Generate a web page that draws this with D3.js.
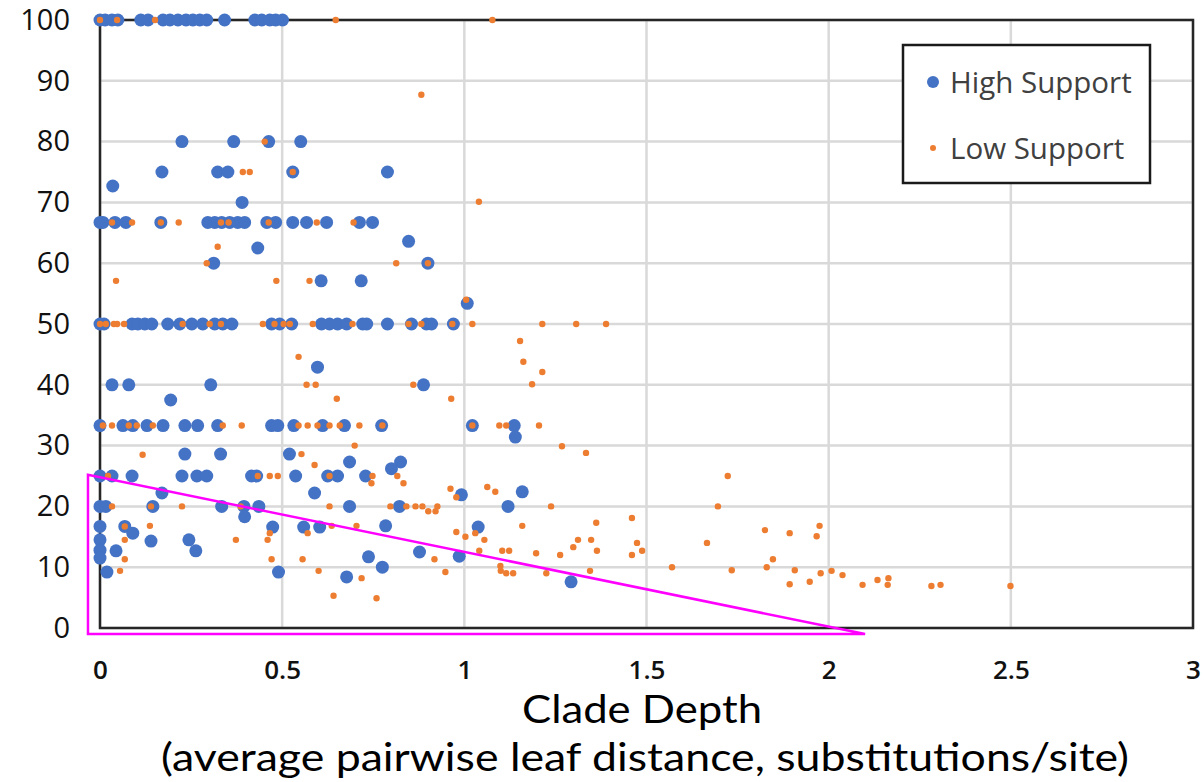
<!DOCTYPE html>
<html>
<head>
<meta charset="utf-8">
<script src="https://cdn.jsdelivr.net/npm/d3@7"></script>
<style>
  body { margin: 0; background: #fff; }
  svg { display: block; font-family: "Open Sans", sans-serif; }
</style>
</head>
<body>
<script>
// axis ticks
const xTicks = [0, 0.5, 1, 1.5, 2, 2.5, 3];
const yTicks = [0, 10, 20, 30, 40, 50, 60, 70, 80, 90, 100];

// [clade depth, support %]
const highSupport = [
  [0,100],[0.014,100],[0.033,100],[0.049,100],[0.112,100],[0.132,100],[0.173,100],[0.192,100],[0.214,100],
  [0.236,100],[0.255,100],[0.274,100],[0.293,100],[0.342,100],[0.425,100],[0.444,100],[0.466,100],[0.482,100],[0.501,100],
  [0.225,80],[0.367,80],[0.463,80],[0.551,80],
  [0.170,75],[0.323,75],[0.351,75],[0.529,75],[0.789,75],
  [0.035,72.7],[0.39,70],
  [0,66.7],[0.008,66.7],[0.041,66.7],[0.071,66.7],[0.167,66.7],[0.296,66.7],[0.315,66.7],[0.334,66.7],[0.356,66.7],
  [0.378,66.7],[0.397,66.7],[0.458,66.7],[0.482,66.7],[0.529,66.7],[0.567,66.7],[0.622,66.7],[0.712,66.7],[0.748,66.7],
  [0.847,63.6],[0.433,62.5],
  [0.312,60],[0.90,60],
  [0.607,57.1],[0.717,57.1],
  [1.008,53.4],
  [0,50],[0.011,50],[0.088,50],[0.104,50],[0.123,50],[0.142,50],[0.186,50],[0.219,50],[0.252,50],[0.282,50],
  [0.315,50],[0.337,50],[0.362,50],[0.471,50],[0.493,50],[0.526,50],[0.608,50],[0.630,50],[0.652,50],[0.677,50],
  [0.721,50],[0.732,50],[0.789,50],[0.855,50],[0.896,50],[0.910,50],[0.970,50],
  [0.597,42.9],
  [0.033,40],[0.079,40],[0.304,40],[0.888,40],
  [0.194,37.5],
  [0,33.3],[0.063,33.3],[0.09,33.3],[0.129,33.3],[0.173,33.3],[0.233,33.3],[0.268,33.3],[0.323,33.3],[0.471,33.3],
  [0.488,33.3],[0.532,33.3],[0.611,33.3],[0.671,33.3],[0.773,33.3],[1.022,33.3],[1.137,33.3],
  [1.14,31.4],
  [0.233,28.6],[0.331,28.6],[0.52,28.6],
  [0.685,27.3],[0.825,27.3],[0.80,26.2],
  [0,25],[0.033,25],[0.088,25],[0.225,25],[0.266,25],[0.293,25],[0.416,25],[0.430,25],[0.537,25],[0.625,25],[0.652,25],[0.729,25],
  [0.17,22.2],[0.589,22.2],[0.992,21.9],[1.159,22.4],
  [0,20],[0.016,20],[0.145,20],[0.334,20],[0.395,20],[0.436,20],[0.685,20],[0.822,20],[1.12,20],
  [0.397,18.3],
  [0,16.7],[0.068,16.7],[0.09,15.6],[0,14.5],[0,12.8],[0,11.5],[0.044,12.7],[0.019,9.2],[0.14,14.3],[0.244,14.5],
  [0.263,12.7],[0.474,16.6],[0.49,9.2],[0.559,16.6],[0.603,16.6],[0.677,8.4],[0.737,11.7],[0.775,10],[0.784,16.8],
  [0.877,12.5],[0.986,11.8],[1.038,16.6],[1.293,7.6]
];

const lowSupport = [
  [0,100],[0.047,100],[0.151,100],[0.647,100],[1.077,100],
  [0.452,80],[0.882,87.7],[1.04,70.1],
  [0.392,75],[0.411,75],[0.529,75],
  [0.033,66.7],[0.088,66.7],[0.167,66.7],[0.216,66.7],[0.332,66.7],[0.353,66.7],[0.463,66.7],[0.595,66.7],[0.696,66.7],
  [0.323,62.7],
  [0.293,60],[0.813,60],[0.90,60],
  [0.044,57.1],[0.484,57.1],[0.575,57.1],
  [1.005,54],
  [0,50],[0.016,50],[0.038,50],[0.047,50],[0.066,50],[0.227,50],[0.301,50],[0.332,50],[0.447,50],[0.479,50],[0.504,50],
  [0.521,50],[0.584,50],[0.693,50],[0.847,50],[0.882,50],[0.967,50],[1.022,50],[1.214,50],[1.307,50],[1.389,50],
  [0.545,44.6],[1.153,47.2],[1.162,43.8],[1.214,42.1],[1.186,40.1],
  [0.567,40],[0.592,40],[0.86,40],
  [0.964,37.7],[0.65,37.7],
  [0.008,33.3],[0.033,33.3],[0.079,33.3],[0.101,33.3],[0.145,33.3],[0.337,33.3],[0.389,33.3],[0.545,33.3],[0.570,33.3],
  [0.597,33.3],[0.630,33.3],[0.658,33.3],[0.712,33.3],[0.775,33.3],[1.022,33.3],[1.096,33.3],[1.115,33.3],[1.205,33.3],
  [0.699,30],[1.268,29.9],[1.334,28.8],[0.117,28.5],[0.553,28.6],[0.589,26.8],
  [0.022,25],[0.433,25],[0.466,25],[0.488,25],[0.630,25],[0.748,25],[0.816,25],[1.723,25],
  [0.745,23.8],[0.833,23.8],
  [0.962,22.9],[0.978,21.5],[1.063,23.2],[1.085,22.4],
  [0.033,20],[0.14,20],[0.225,20],[0.386,20],[0.63,20],[0.797,20],[0.841,20],[0.866,20],[0.885,20],[0.926,20],
  [1.238,20],[1.696,20],[0.901,19.2],[0.921,19.2],
  [0.068,16.7],[0.055,9.4],[0.068,14.5],[0.068,11.3],[0.137,16.8],[0.373,14.5],[0.46,14.5],[0.466,15.6],[0.471,11.3],
  [0.556,11.3],[0.57,15.6],[0.636,16.8],[0.6,9.4],[0.641,5.3],[0.704,16.8],[0.718,8.2],[0.759,4.9],[0.918,11.3],
  [0.948,9.2],[0.978,15.8],[1.003,15],[1.03,15.6],[1.055,14.5],[1.041,12.7],[1.104,12.7],[1.123,12.7],[1.099,10.2],
  [1.1,9.4],[1.115,9],[1.134,9],[1.159,16.8],[1.197,12.3],[1.225,9],[1.263,12],[1.299,13.3],[1.312,14.5],[1.348,14.5],
  [1.362,17.3],[1.364,12.7],[1.345,9.4],[1.46,18.1],[1.474,14],[1.488,12.7],[1.46,12],[1.57,10],[1.666,14],[1.734,9.5],
  [1.825,16.1],[1.83,10],[1.847,11.3],[1.893,15.6],[1.975,16.8],[1.967,15.1],[1.907,9.5],[1.893,7.2],[1.948,7.6],
  [1.978,9],[2.008,9.4],[2.038,8.7],[2.093,7.1],[2.134,7.9],[2.164,8.2],[2.162,7.1],[2.282,6.9],[2.307,7.1],[2.499,6.9]
];

const legendLabels = ["High Support", "Low Support"];
// magenta outline drawn over the chart, in data units
const highlight = [[-0.033, 25.2], [-0.033, -1], [2.1, -1]];

const width = 1204, height = 782;
const x = d3.scaleLinear().domain([0, 3]).range([100, 1193]);
const y = d3.scaleLinear().domain([0, 100]).range([628, 20]);

const svg = d3.select("body").append("svg")
    .attr("width", width)
    .attr("height", height);

svg.append("rect").attr("width", width).attr("height", height).attr("fill", "#fff");

// grid
svg.append("g")
    .attr("stroke", "#d9d9d9")
    .attr("stroke-width", 2.5)
  .call(g => g.selectAll(".h").data(yTicks).join("line")
      .attr("x1", x(0)).attr("x2", x(3))
      .attr("y1", d => y(d)).attr("y2", d => y(d)))
  .call(g => g.selectAll(".v").data(xTicks).join("line")
      .attr("x1", d => x(d)).attr("x2", d => x(d))
      .attr("y1", y(0)).attr("y2", y(100)));

// plot frame
svg.append("rect")
    .attr("x", x(0)).attr("y", y(100))
    .attr("width", x(3) - x(0)).attr("height", y(0) - y(100))
    .attr("fill", "none")
    .attr("stroke", "#262626")
    .attr("stroke-width", 2.5);

// axes (labels only)
svg.append("g")
    .attr("transform", `translate(${x(0)},0)`)
    .call(d3.axisLeft(y).tickValues(yTicks).tickSize(0).tickPadding(30))
    .call(g => g.select(".domain").remove())
    .call(g => g.selectAll("text").attr("font-size", 29).attr("font-family", "Open Sans, sans-serif")
        .attr("font-weight", 500).attr("fill", "#111"));

svg.append("g")
    .attr("transform", `translate(0,${y(0)})`)
    .call(d3.axisBottom(x).tickValues(xTicks).tickFormat(d3.format("")).tickSize(0).tickPadding(33))
    .call(g => g.select(".domain").remove())
    .call(g => g.selectAll("text").attr("font-size", 26).attr("font-family", "Open Sans, sans-serif")
        .attr("font-weight", 600).attr("fill", "#111"));

// points
svg.append("g")
  .selectAll("circle")
  .data(highSupport)
  .join("circle")
    .attr("cx", d => x(d[0]))
    .attr("cy", d => y(d[1]))
    .attr("r", 6.5)
    .attr("fill", "#4472c4");

svg.append("g")
  .selectAll("circle")
  .data(lowSupport)
  .join("circle")
    .attr("cx", d => x(d[0]))
    .attr("cy", d => y(d[1]))
    .attr("r", 3.2)
    .attr("fill", "#ed7d31");

// legend
const legend = svg.append("g").attr("transform", "translate(903,45)");
legend.append("rect")
    .attr("width", 247).attr("height", 138)
    .attr("fill", "#fff")
    .attr("stroke", "#1a1a1a")
    .attr("stroke-width", 2.5);
const item = legend.selectAll(".item")
  .data(legendLabels)
  .join("g")
    .attr("transform", (d, i) => `translate(30,${37 + i * 66})`);
item.append("circle")
    .attr("r", (d, i) => i === 0 ? 6 : 3)
    .attr("fill", (d, i) => i === 0 ? "#4472c4" : "#ed7d31");
item.append("text")
    .attr("x", 17)
    .attr("dy", "0.36em")
    .attr("font-size", 29.5)
    .attr("fill", "#404040")
    .text(d => d);

// axis title (Lato keeps the two tall lines from crowding each other)
svg.append("text")
    .attr("x", 642).attr("y", 723)
    .attr("text-anchor", "middle")
    .attr("font-family", "Lato, sans-serif")
    .attr("font-size", 38)
    .attr("textLength", 240)
    .attr("lengthAdjust", "spacingAndGlyphs")
    .attr("fill", "#000")
    .text("Clade Depth");
svg.append("text")
    .attr("x", 645).attr("y", 771)
    .attr("text-anchor", "middle")
    .attr("font-family", "Lato, sans-serif")
    .attr("font-size", 39)
    .attr("textLength", 968)
    .attr("lengthAdjust", "spacingAndGlyphs")
    .attr("fill", "#000")
    .text("(average pairwise leaf distance, substitutions/site)");

// magenta highlight
svg.append("path")
    .attr("d", d3.line().x(d => x(d[0])).y(d => y(d[1]))(highlight) + "Z")
    .attr("fill", "none")
    .attr("stroke", "#ff00ff")
    .attr("stroke-width", 2.5);
</script>
</body>
</html>
